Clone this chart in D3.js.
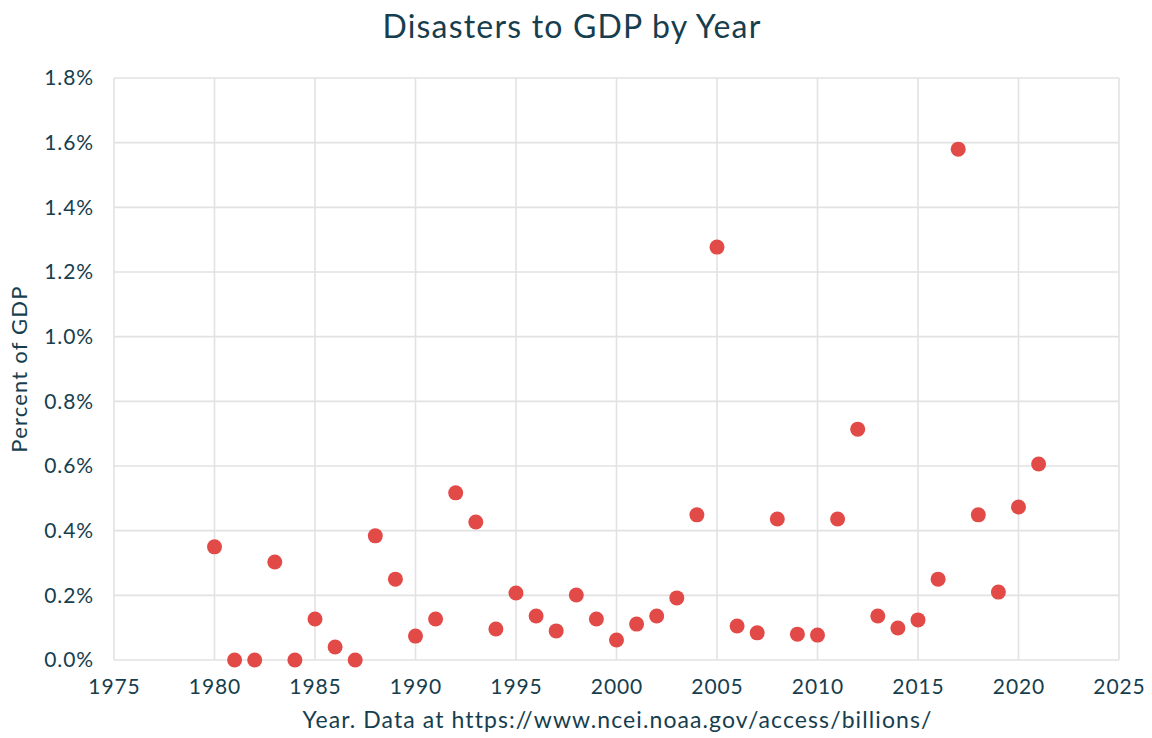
<!DOCTYPE html>
<html><head><meta charset="utf-8">
<script src="https://cdn.jsdelivr.net/npm/d3@7"></script>
<style>body{margin:0;background:#fff}svg{display:block}</style>
</head><body>
<svg id="c" width="1152" height="738"></svg>
<script>
const years = [1980,1981,1982,1983,1984,1985,1986,1987,1988,1989,1990,1991,1992,1993,1994,1995,1996,1997,1998,1999,2000,2001,2002,2003,2004,2005,2006,2007,2008,2009,2010,2011,2012,2013,2014,2015,2016,2017,2018,2019,2020,2021];
const pctGDP = [0.350,0.0,0.0,0.303,0.0,0.127,0.040,0.0,0.384,0.250,0.074,0.127,0.517,0.427,0.096,0.207,0.136,0.090,0.201,0.127,0.062,0.111,0.136,0.192,0.449,1.277,0.105,0.084,0.436,0.080,0.077,0.436,0.714,0.136,0.099,0.124,0.250,1.580,0.449,0.210,0.473,0.606];
const xTicks = [1975,1980,1985,1990,1995,2000,2005,2010,2015,2020,2025];
const yTicks = [0,0.2,0.4,0.6,0.8,1.0,1.2,1.4,1.6,1.8];
const title = "Disasters to GDP by Year";
const xLabel = "Year. Data at https://www.ncei.noaa.gov/access/billions/";
const yLabel = "Percent of GDP";

const font = "Lato, 'Open Sans', sans-serif";
const textCol = "#163e4e";
const svg = d3.select("#c");
const m = {l:114, r:1119, t:78, b:660};
const x = d3.scaleLinear().domain([1975,2025]).range([m.l,m.r]);
const y = d3.scaleLinear().domain([0,1.8]).range([m.b,m.t]);

// grid
svg.append("g").selectAll("line").data(xTicks).join("line")
  .attr("x1",d=>x(d)).attr("x2",d=>x(d)).attr("y1",m.t).attr("y2",m.b)
  .attr("stroke","#e2e2e2").attr("stroke-width",1.6);
svg.append("g").selectAll("line").data(yTicks).join("line")
  .attr("x1",m.l).attr("x2",m.r).attr("y1",d=>y(d)).attr("y2",d=>y(d))
  .attr("stroke","#e2e2e2").attr("stroke-width",1.6);

// axes
const xa = svg.append("g").attr("transform",`translate(0,${m.b})`)
  .call(d3.axisBottom(x).tickValues(xTicks).tickFormat(d3.format("d")).tickSize(0).tickPadding(19));
const ya = svg.append("g").attr("transform",`translate(${m.l},0)`)
  .call(d3.axisLeft(y).tickValues(yTicks).tickFormat(d=>d.toFixed(1)+"%").tickSize(0).tickPadding(20));
[xa,ya].forEach(a=>{
  a.select(".domain").remove();
  a.selectAll("text").attr("font-family",font).attr("font-size",21).attr("letter-spacing",0.9).attr("fill",textCol);
});

// points
svg.append("g").selectAll("circle").data(years.map((yr,i)=>[yr,pctGDP[i]])).join("circle")
  .attr("cx",d=>x(d[0])).attr("cy",d=>y(d[1])).attr("r",7.5).attr("fill","#e24a48");

// titles
svg.append("text").attr("x",572).attr("y",38).attr("text-anchor","middle")
  .attr("font-family",font).attr("font-size",32).attr("letter-spacing",1.2).attr("fill",textCol).text(title);
svg.append("text").attr("x",(m.l+m.r)/2+1).attr("y",728).attr("text-anchor","middle")
  .attr("font-family",font).attr("font-size",23).attr("letter-spacing",1.1).attr("fill",textCol).text(xLabel);
svg.append("text").attr("transform",`translate(27,${(m.t+m.b)/2}) rotate(-90)`).attr("text-anchor","middle")
  .attr("font-family",font).attr("font-size",22).attr("letter-spacing",1.2).attr("fill",textCol).text(yLabel);
</script>
</body></html>
